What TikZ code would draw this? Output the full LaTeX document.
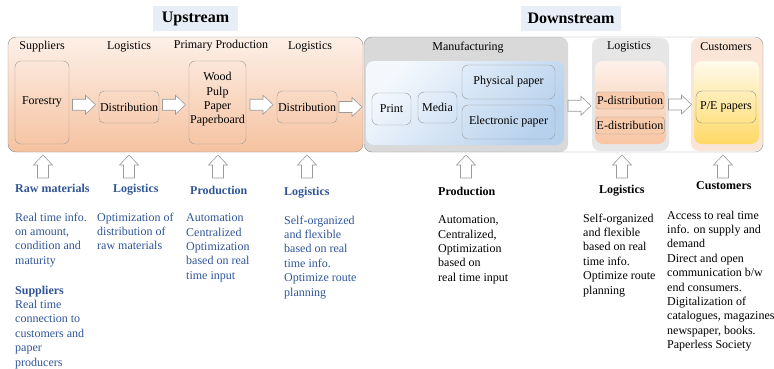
\documentclass[tikz,border=0pt]{standalone}
\usepackage{fontspec}
\setmainfont{Liberation Serif}
\usetikzlibrary{calc}
\definecolor{upTop}{HTML}{FDF0E8}
\definecolor{upBottom}{HTML}{F5C2A0}
\definecolor{titleBg}{HTML}{E8EEF7}
\definecolor{manufBg}{HTML}{D9D9D9}
\definecolor{blueTop}{HTML}{F4F8FD}
\definecolor{blueBottom}{HTML}{B7D1ED}
\definecolor{logiBg}{HTML}{E7E6E6}
\definecolor{orangeTop}{HTML}{FDF1EA}
\definecolor{orangeBottom}{HTML}{F8C5A3}
\definecolor{distBg}{HTML}{F8CBAD}
\definecolor{custBg}{HTML}{FBE5D6}
\definecolor{yellowTop}{HTML}{FFFBEC}
\definecolor{yellowBottom}{HTML}{FFD966}
\definecolor{boxBorder}{HTML}{9A9A9A}
\definecolor{areaBorder}{HTML}{8C8C8C}
\definecolor{blueText}{HTML}{2F5597}
\tikzset{
areastyle/.style={rectangle, rounded corners=8pt, inner sep=0pt, outer sep=0pt},
boxstyle/.style={rectangle, rounded corners=6pt, draw=boxBorder, inner sep=1pt, outer sep=0pt, align=center},
titlestyle/.style={rectangle, fill=titleBg, inner sep=0pt, minimum height=25pt, font=\fontsize{16}{19}\selectfont\bfseries},
labelstyle/.style={inner sep=0pt},
headstyle/.style={inner sep=0pt, anchor=north west, font=\fontsize{12}{14.4}\selectfont\bfseries},
infostyle/.style={inner sep=0pt, anchor=north west, align=left},
arrowline/.style={draw=boxBorder, fill=white, line width=0.6pt},
blockarrow/.pic={
  \draw [arrowline] (-11.5,-5.5) -- (1.5,-5.5) -- (1.5,-9.5) -- (11.5,0) -- (1.5,9.5) -- (1.5,5.5) -- (-11.5,5.5) -- cycle;
}
}
\newcommand{\uparr}[2]{
  \coordinate (#1) at (#2,166.5);
  \pic [rotate=90] at (#1) {blockarrow};
}
\begin{document}
\begin{tikzpicture}[x=1pt, y=-1pt, font=\fontsize{12}{14.4}\selectfont]
\useasboundingbox (0,0) rectangle (774,368);

% titles
\node [titlestyle, minimum width=85pt] (uptitle) at (195.5,18.5) {Upstream};
\node [titlestyle, minimum width=100pt] (downtitle) at (571,18.5) {Downstream};

% upstream
\node [areastyle, draw=areaBorder, top color=upTop, bottom color=upBottom, minimum width=355pt, minimum height=115pt] (upstream) at (185.5,94.5) {};
\node [labelstyle] (lsup) at (42,47) {Suppliers};
\node [labelstyle] (llog1) at (129,47) {Logistics};
\node [labelstyle] (lprim) at (221,46) {Primary Production};
\node [labelstyle] (llog2) at (310,47) {Logistics};

\node [boxstyle, minimum width=54pt, minimum height=83pt] (forestry) at (42,102.5) {};
\node [labelstyle] at (42,102) {Forestry};
\node [boxstyle, minimum width=60pt, minimum height=32pt, rounded corners=5pt] (dist1) at (129,107) {Distribution};
\node [boxstyle, minimum width=57pt, minimum height=83pt] (wood) at (217.5,102.5) {};
\node [labelstyle, align=center] (woodtext) at (217.5,99.5) {Wood\\Pulp\\Paper\\Paperboard};
\node [boxstyle, minimum width=60pt, minimum height=32pt, rounded corners=5pt] (dist2) at (307,107) {Distribution};

% downstream
\node [areastyle, fill=white, minimum width=399pt, minimum height=115pt] (downstream) at (563.5,94.5) {};
\node [areastyle, fill=manufBg, minimum width=204pt, minimum height=115pt] (manuf) at (466,94.5) {};
\node [areastyle, top color=blueTop, bottom color=blueBottom, shading angle=45, minimum width=198pt, minimum height=84pt] (blue) at (465,103) {};
\node [areastyle, fill=logiBg, minimum width=77pt, minimum height=113pt] (logi) at (630.5,94.5) {};
\node [areastyle, top color=orangeTop, bottom color=orangeBottom, minimum width=71pt, minimum height=83pt] (login) at (630.5,102.5) {};
\node [areastyle, fill=custBg, minimum width=72pt, minimum height=113pt] (cust) at (727,94.5) {};
\node [areastyle, top color=yellowTop, bottom color=yellowBottom, minimum width=65pt, minimum height=83pt] (custin) at (726.5,102.5) {};
\draw [areaBorder, rounded corners=8pt] (downstream.north west) rectangle (downstream.south east);

\node [labelstyle] (lmanuf) at (468,48) {Manufacturing};
\node [labelstyle] (llog3) at (629,47) {Logistics};
\node [labelstyle] (lcust) at (726,47) {Customers};

\node [boxstyle, minimum width=39pt, minimum height=32pt] (print) at (391.5,109) {Print};
\node [boxstyle, minimum width=39pt, minimum height=31pt] (media) at (437.5,107.5) {Media};
\node [boxstyle, minimum width=93pt, minimum height=34pt] (physical) at (508.5,82) {Physical paper};
\node [boxstyle, minimum width=93pt, minimum height=34pt] (electronic) at (508.5,122) {Electronic paper};
\node [boxstyle, fill=distBg, minimum width=68pt, minimum height=17pt, rounded corners=3pt] (pdist) at (630,100.5) {P-distribution};
\node [boxstyle, fill=distBg, minimum width=68pt, minimum height=17pt, rounded corners=3pt] (edist) at (630,125.5) {E-distribution};
\node [boxstyle, draw=areaBorder, minimum width=60pt, minimum height=32pt] (pepapers) at (726,107) {P/E papers};

% block arrows
\coordinate (ar1) at ($(forestry.east)!0.5!(dist1.west)$);
\coordinate (ar2) at ($(dist1.east)!0.5!(wood.west)$);
\coordinate (ar3) at ($(wood.east)!0.5!(dist2.west)$);
\coordinate (ar4) at ($(dist2.east)!0.5!(dist2.east -| downstream.west)$);
\coordinate [yshift=-3pt] (ar5) at ($(blue.east)!0.5!(login.west)$);
\coordinate [yshift=-2pt] (ar6) at ($(login.east)!0.5!(custin.west)$);
\foreach \a in {ar1,ar2,ar3,ar4,ar5,ar6}
  \pic at (\a) {blockarrow};

\uparr{ua1}{43}
\uparr{ua2}{129}
\uparr{ua3}{218}
\uparr{ua4}{307}
\uparr{ua5}{466}
\uparr{ua6}{622}
\uparr{ua7}{723}

% texts
\node [headstyle, text=blueText] (hraw) at (15,183.5) {Raw materials};
\node [infostyle, text=blueText] (iraw) at (15,212.5) {Real time info.\\on amount,\\condition and\\maturity};
\node [infostyle, text=blueText] (isup) at (15,285.5) {\textbf{Suppliers}\\Real time\\connection to\\customers and\\paper\\producers};
\node [headstyle, text=blueText] (hlog1) at (113,183.5) {Logistics};
\node [infostyle, text=blueText] (ilog1) at (97,212.5) {Optimization of\\distribution of\\raw materials};
\node [headstyle, text=blueText] (hprod1) at (190,185.5) {Production};
\node [infostyle, text=blueText] (iprod1) at (186,213.5) {Automation\\Centralized\\Optimization\\based on real\\time input};
\node [headstyle, text=blueText] (hlog2) at (284,186.5) {Logistics};
\node [infostyle, text=blueText] (ilog2) at (284,215.5) {Self-organized\\and flexible\\based on real\\time info.\\Optimize route\\planning};

\node [headstyle] (hprod2) at (438,186.5) {Production};
\node [infostyle] (iprod2) at (438,215.5) {Automation,\\Centralized,\\Optimization\\based on\\real time input};
\node [headstyle] (hlog3) at (599,184.5) {Logistics};
\node [infostyle] (ilog3) at (583,213.5) {Self-organized\\and flexible\\based on real\\time info.\\Optimize route\\planning};
\node [headstyle] (hcust) at (696,181.5) {Customers};
\node [infostyle] (icust) at (667,210.5) {Access to real time\\info. on supply and\\demand\\Direct and open\\communication b/w\\end consumers.\\Digitalization of\\catalogues, magazines\\newspaper, books.\\Paperless Society};

\end{tikzpicture}
\end{document}
